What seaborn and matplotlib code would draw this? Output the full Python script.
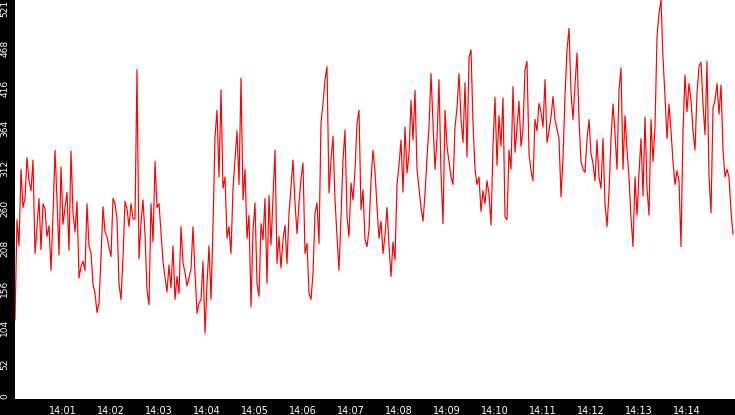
import matplotlib
matplotlib.use("Agg")
import matplotlib.pyplot as plt
import matplotlib.dates as mdates
import seaborn as sns
import pandas as pd
import numpy as np

# Values, one every 2.5 s, in six 150-second blocks
block_1400 = [103, 234, 200, 300, 250, 262, 315, 285, 272, 312, 190, 225, 262, 195, 255, 248, 212, 226, 168, 240,
              325, 260, 188, 303, 228, 250, 270, 194, 324, 243, 218, 258, 158, 173, 180, 168, 255, 200, 190, 150,
              138, 113, 125, 186, 251, 218, 212, 198, 186, 262, 255, 235, 150, 130, 185, 258, 248, 225, 255, 235]
block_1402 = [235, 430, 183, 230, 260, 215, 142, 123, 255, 205, 310, 250, 255, 218, 180, 158, 140, 175, 145, 200,
              130, 160, 138, 225, 178, 165, 148, 158, 170, 225, 165, 112, 125, 130, 180, 86, 150, 200, 130, 225,
              342, 377, 290, 404, 275, 290, 210, 225, 190, 275, 312, 350, 280, 419, 260, 300, 210, 240, 120, 220]
block_1405 = [256, 150, 134, 229, 208, 262, 151, 266, 201, 264, 325, 177, 212, 171, 208, 227, 177, 242, 277, 312,
              256, 216, 256, 288, 308, 190, 203, 138, 130, 164, 242, 256, 203, 360, 386, 417, 434, 269, 312, 343,
              260, 212, 168, 238, 312, 351, 238, 212, 282, 260, 299, 360, 377, 247, 273, 208, 199, 221, 286, 325]
block_1407 = [297, 251, 210, 232, 190, 214, 250, 200, 160, 205, 182, 280, 305, 338, 270, 355, 295, 320, 390, 338,
              403, 300, 275, 250, 232, 268, 316, 355, 425, 360, 300, 340, 417, 295, 229, 377, 330, 310, 290, 280,
              355, 380, 425, 365, 335, 413, 316, 446, 456, 360, 300, 280, 290, 245, 272, 255, 285, 268, 227, 330]
block_1410 = [394, 305, 370, 330, 393, 238, 234, 325, 300, 408, 322, 354, 389, 330, 352, 430, 441, 320, 298, 285,
              365, 350, 386, 375, 355, 417, 335, 350, 368, 395, 365, 352, 340, 264, 315, 396, 456, 484, 400, 365,
              410, 452, 365, 310, 300, 296, 340, 365, 320, 308, 285, 338, 290, 275, 340, 255, 225, 270, 340, 385]
block_1412 = [347, 300, 404, 432, 300, 370, 325, 290, 236, 199, 290, 240, 295, 340, 265, 368, 275, 240, 365, 310,
              355, 473, 504, 521, 445, 395, 340, 385, 350, 310, 280, 298, 285, 199, 350, 423, 375, 412, 390, 350,
              325, 400, 434, 440, 385, 345, 441, 290, 243, 380, 390, 412, 372, 410, 325, 290, 300, 290, 245, 215]

values = block_1400 + block_1402 + block_1405 + block_1407 + block_1410 + block_1412
start_time = "2024-01-01 14:00:00"
end_time = "2024-01-01 14:15:00"
sample_step = "2500ms"
y_max = 521
y_ticks = [0, 52.1, 104.2, 156.3, 208.4, 260.5, 312.6, 364.7, 416.8, 468.9, 521]
y_tick_labels = ["0", "52", "104", "156", "208", "260", "312", "364", "416", "468", "521"]

times = pd.date_range(start_time, periods=len(values), freq=sample_step)
df = pd.DataFrame({"time": times, "value": values})

sns.set_style("white")
plt.rcParams["font.family"] = ["DejaVu Sans"]

fig = plt.figure(figsize=(7.35, 4.15), dpi=100, facecolor="black")
ax = fig.add_axes([15 / 735, 16 / 415, 720 / 735, 399 / 415])
ax.set_facecolor("white")

sns.lineplot(data=df, x="time", y="value", ax=ax, color="#ff0000", linewidth=0.85)

ax.set_xlim(pd.Timestamp(start_time), pd.Timestamp(end_time))
ax.set_ylim(0, y_max)
ax.set_xlabel("")
ax.set_ylabel("")

ax.xaxis.set_major_locator(mdates.MinuteLocator(byminute=range(1, 15)))
ax.xaxis.set_major_formatter(mdates.DateFormatter("%H:%M"))
ax.set_yticks(y_ticks)
ax.set_yticklabels(y_tick_labels)

ax.tick_params(axis="x", colors="white", length=4, width=1, direction="out",
               labelsize=7, pad=1)
ax.tick_params(axis="y", colors="white", length=4, width=1, direction="out",
               labelsize=6.5, pad=0)
for lbl in ax.get_yticklabels():
    lbl.set_rotation(90)
    lbl.set_va("top")
    lbl.set_ha("right")
ax.get_yticklabels()[0].set_va("bottom")

for s in ax.spines.values():
    s.set_visible(False)

fig.savefig("out.png", dpi=100, facecolor="black")
